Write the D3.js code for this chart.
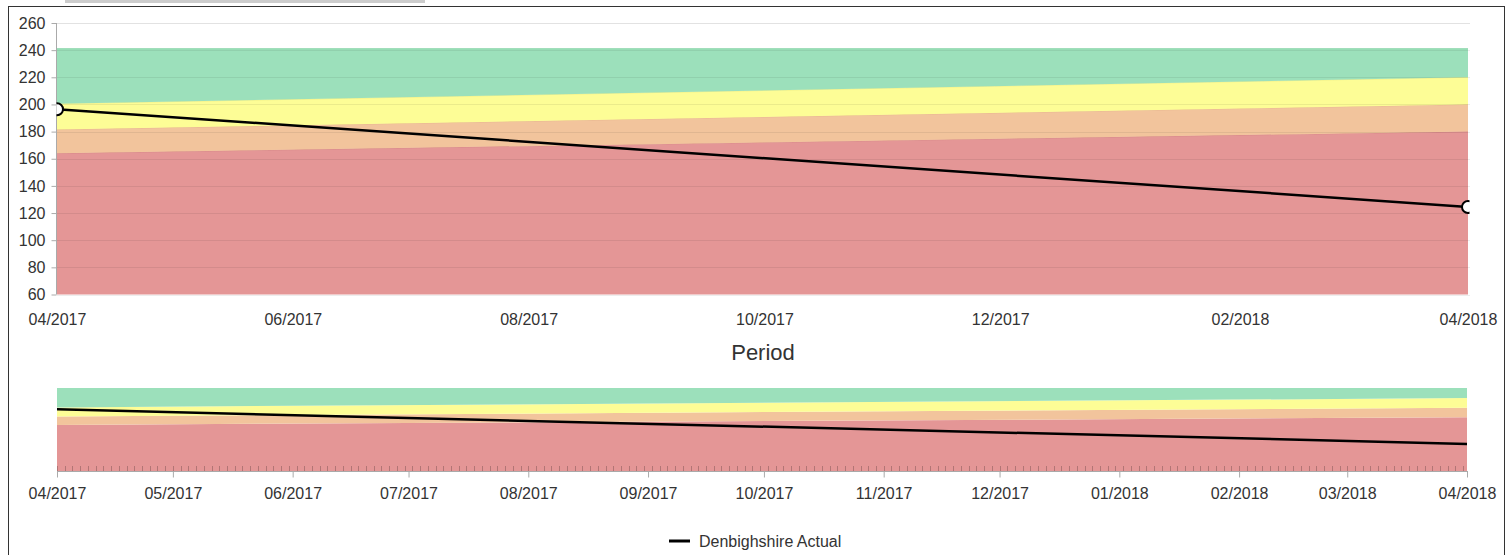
<!DOCTYPE html>
<html>
<head>
<meta charset="utf-8">
<script src="https://cdn.jsdelivr.net/npm/d3@7"></script>
<style>
  html, body { margin: 0; padding: 0; background: #fff; }
  svg { display: block; font-family: "Liberation Sans", Arial, sans-serif; }
</style>
</head>
<body>
<svg id="chart" width="1511" height="555"></svg>
<script>
// chart data
var periods = ["2017-04-01", "2018-04-01"];
var actual = [196.5, 124.5];
var redTop = [164, 180];
var orangeTop = [181.5, 200];
var yellowTop = [200.5, 220];
var greenTop = [241, 241];
var yTicks = [60, 80, 100, 120, 140, 160, 180, 200, 220, 240, 260];
var seriesName = "Denbighshire Actual";

var parse = d3.timeParse("%Y-%m-%d");
var dates = periods.map(parse);
var fmt = d3.timeFormat("%m/%Y");

var bandColors = {red: "#e49696", orange: "#f2c49c", yellow: "#fdfd96", green: "#9ce0bb"};
var bandEdge = {red: "#d88a8a", orange: "#e8b690", yellow: "#f0f08a", green: "#86d4a8"};

var svg = d3.select("#chart");

// outer frame + small grey bar at top
svg.append("rect").attr("x", 65).attr("y", 0).attr("width", 360).attr("height", 3).attr("fill", "#cccccc");
svg.append("rect").attr("x", 8.5).attr("y", 6.5).attr("width", 1496).attr("height", 600)
  .attr("fill", "none").attr("stroke", "#333").attr("stroke-width", 1);

// build rows for band areas
var rows = dates.map(function(d, i) {
  return {date: d, red: redTop[i], orange: orangeTop[i], yellow: yellowTop[i], green: greenTop[i], actual: actual[i]};
});
var bands = [
  {key: "red", lo: null},
  {key: "orange", lo: "red"},
  {key: "yellow", lo: "orange"},
  {key: "green", lo: "yellow"}
];

// ---------- main chart ----------
var x = d3.scaleTime().domain([dates[0], dates[1]]).range([57, 1468]);
var y = d3.scaleLinear().domain([60, 260]).range([294.5, 23]);

svg.append("clipPath").attr("id", "clipMain")
  .append("rect").attr("x", 56.5).attr("y", 23).attr("width", 1413).attr("height", 272);

var main = svg.append("g");
var bandsG = main.append("g").attr("clip-path", "url(#clipMain)");

bands.forEach(function(b) {
  var area = d3.area()
    .x(function(d) { return x(d.date); })
    .y0(function(d) { return b.lo ? y(d[b.lo]) : y(60); })
    .y1(function(d) { return y(d[b.key]); });
  bandsG.append("path").datum(rows).attr("d", area).attr("fill", bandColors[b.key]);
  bandsG.append("path").datum(rows)
    .attr("d", d3.line().x(function(d) { return x(d.date); }).y(function(d) { return y(d[b.key]); }))
    .attr("fill", "none").attr("stroke", bandEdge[b.key]).attr("stroke-width", 1);
});

// y axis with gridlines
var yAxis = d3.axisLeft(y).tickValues(yTicks).tickSize(5).tickPadding(6);
var yG = main.append("g").attr("transform", "translate(56.5,0)").call(yAxis);
yG.select(".domain").attr("stroke", "#aaa").attr("d", "M0," + y(60) + "V" + y(260));
yG.selectAll(".tick line").attr("stroke", "#aaa");
yG.selectAll(".tick text").attr("fill", "#333").attr("font-size", 16).attr("font-family", "Liberation Sans, Arial, sans-serif");

main.append("g").selectAll("line").data(yTicks).join("line")
  .attr("x1", 57).attr("x2", 1470)
  .attr("y1", function(d) { return Math.round(y(d)) + 0.5; })
  .attr("y2", function(d) { return Math.round(y(d)) + 0.5; })
  .attr("stroke", function(d) { return d >= 245 ? "#e2e2e2" : "rgba(0,0,0,0.07)"; })
  .attr("stroke-width", 1);

// x axis labels, every second month from the first period
var xTickDates = d3.timeMonth.range(dates[0], d3.timeDay.offset(dates[1], 1), 2);
var xAxis = d3.axisBottom(x).tickValues(xTickDates).tickFormat(fmt).tickSize(0).tickPadding(19);
var xG = main.append("g").attr("transform", "translate(0,294.5)").call(xAxis);
xG.select(".domain").remove();
xG.selectAll(".tick text").attr("fill", "#333").attr("font-size", 16).attr("font-family", "Liberation Sans, Arial, sans-serif");

main.append("text").attr("x", 763).attr("y", 360).attr("text-anchor", "middle")
  .attr("font-size", 22).attr("fill", "#333").text("Period");

// actual line + markers
var lineG = main.append("g").attr("clip-path", "url(#clipMain)");
lineG.append("path").datum(rows)
  .attr("d", d3.line().x(function(d) { return x(d.date); }).y(function(d) { return y(d.actual); }))
  .attr("fill", "none").attr("stroke", "#000").attr("stroke-width", 2.5);
lineG.selectAll("circle").data(rows).join("circle")
  .attr("cx", function(d) { return x(d.date); })
  .attr("cy", function(d) { return y(d.actual); })
  .attr("r", 6).attr("fill", "#fff").attr("stroke", "#000").attr("stroke-width", 2);

// ---------- navigator ----------
var xn = d3.scaleTime().domain([dates[0], dates[1]]).range([57, 1467]);
var yn = d3.scaleLinear().domain([68, 241]).range([471, 388]);
var nav = svg.append("g");

bands.forEach(function(b) {
  var area = d3.area()
    .x(function(d) { return xn(d.date); })
    .y0(function(d) { return b.lo ? yn(d[b.lo]) : yn(68); })
    .y1(function(d) { return yn(d[b.key]); });
  nav.append("path").datum(rows).attr("d", area).attr("fill", bandColors[b.key]);
});

nav.append("path").datum(rows)
  .attr("d", d3.line().x(function(d) { return xn(d.date); }).y(function(d) { return yn(d.actual); }))
  .attr("fill", "none").attr("stroke", "#000").attr("stroke-width", 2.5);

// minor ticks every 2 days inside the area
var minor = d3.timeDay.range(dates[0], dates[1], 2);
nav.append("g").selectAll("line").data(minor).join("line")
  .attr("x1", function(d) { return Math.round(xn(d)) + 0.5; })
  .attr("x2", function(d) { return Math.round(xn(d)) + 0.5; })
  .attr("y1", 466).attr("y2", 471)
  .attr("stroke", "rgba(0,0,0,0.22)").attr("stroke-width", 1);

var navTicks = d3.timeMonth.range(dates[0], d3.timeDay.offset(dates[1], 1));
var nAxis = d3.axisBottom(xn).tickValues(navTicks).tickFormat(fmt).tickSize(6).tickPadding(10);
var nG = nav.append("g").attr("transform", "translate(0,471.5)").call(nAxis);
nG.select(".domain").attr("stroke", "#aaa").attr("d", "M57,0H1468");
nG.selectAll(".tick line").attr("stroke", "#aaa");
nG.selectAll(".tick text").attr("fill", "#333").attr("font-size", 16).attr("font-family", "Liberation Sans, Arial, sans-serif");

// ---------- legend ----------
var leg = svg.append("g");
leg.append("line").attr("x1", 669).attr("x2", 690).attr("y1", 541).attr("y2", 541)
  .attr("stroke", "#000").attr("stroke-width", 3);
leg.append("text").attr("x", 699).attr("y", 547).attr("font-size", 16).attr("fill", "#333").text(seriesName);
</script>
</body>
</html>
